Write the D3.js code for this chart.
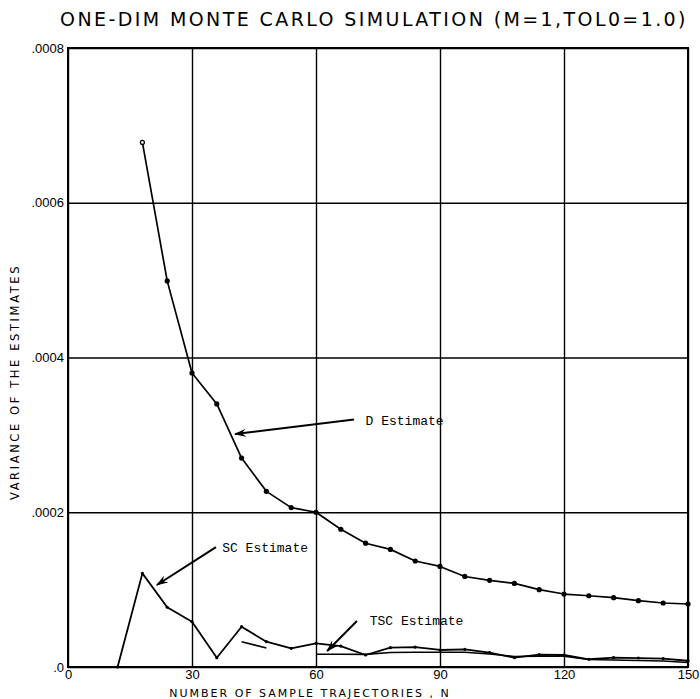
<!DOCTYPE html>
<html>
<head>
<meta charset="utf-8">
<script src="https://cdn.jsdelivr.net/npm/d3@7"></script>
<style>
  body { margin: 0; background: #fff; }
  svg { display: block; }
  .tick text { font-family: 'Liberation Sans', Arial, sans-serif; }
</style>
</head>
<body>
<div id="chart"></div>
<script>
// data
const nValues = [18, 24, 30, 36, 42, 48, 54, 60, 66, 72, 78, 84, 90, 96, 102, 108, 114, 120, 126, 132, 138, 144, 150]
const dEstimate = [0.000678, 0.000499, 0.000380, 0.000340, 0.000270, 0.000227, 0.000206, 0.000200, 0.000178,
  0.000160, 0.000152, 0.000137, 0.000130, 0.000117, 0.000112, 0.000108, 0.000100, 0.0000943, 0.0000921,
  0.0000896, 0.0000857, 0.0000827, 0.0000814]

const scN = [12, 18, 24, 30, 36, 42, 48, 54, 60, 66, 72, 78, 84, 90, 96, 102, 108, 114, 120, 126, 132, 138, 144, 150]
const scEstimate = [0, 0.000121, 0.0000772, 0.0000585, 0.000012, 0.0000521, 0.0000327, 0.0000241, 0.0000306,
  0.0000271, 0.0000155, 0.000025, 0.0000258, 0.000022, 0.0000228, 0.0000185, 0.000012, 0.0000159, 0.0000155,
  0.00001, 0.000012, 0.0000116, 0.0000107, 0.0000081]

// TSC drawn as a short piece then from N=60 on
const tscPieceN = [42, 48]
const tscPiece = [0.0000327, 0.0000245]
const tscN = [60, 66, 72, 78, 84, 90, 96, 102, 108, 114, 120, 126, 132, 138, 144, 150]
const tscEstimate = [0.0000164, 0.0000164, 0.0000163, 0.0000187, 0.000019, 0.000019, 0.000019, 0.0000168,
  0.0000136, 0.000014, 0.000014, 0.0000097, 0.000009, 0.0000084, 0.0000078, 0.0000058]

const xTicks = [0, 30, 60, 90, 120, 150]
const yTicks = [0, 0.0002, 0.0004, 0.0006, 0.0008]
const yTickLabels = ['.0', '.0002', '.0004', '.0006', '.0008']

// annotations: [label, text N, text value, arrow from N, from value, to N, to value]
const annotations = [
  ['D Estimate', 72, 0.000313, 69.2, 0.00032, 40.4, 0.000301],
  ['SC Estimate', 37.3, 0.000149, 35.8, 0.000155, 21.5, 0.000106],
  ['TSC Estimate', 73, 0.0000543, 69.9, 0.0000595, 62.7, 0.0000207],
]

const W = 700, H = 699
const margin = { top: 48, right: 12, bottom: 32, left: 68 }
const width = W - margin.left - margin.right
const height = H - margin.top - margin.bottom

const svg = d3.select('#chart').append('svg').attr('width', W).attr('height', H)

svg.append('defs').append('marker')
  .attr('id', 'arrow')
  .attr('viewBox', '0 0 12 8')
  .attr('refX', 11).attr('refY', 4)
  .attr('markerWidth', 12).attr('markerHeight', 8)
  .attr('markerUnits', 'userSpaceOnUse')
  .attr('orient', 'auto')
  .append('path')
  .attr('d', 'M0,0 L12,4 L0,8 L4,4 Z')
  .attr('fill', '#000')

const g = svg.append('g').attr('transform', `translate(${margin.left},${margin.top})`)

const x = d3.scaleLinear().domain([0, 150]).range([0, width])
const y = d3.scaleLinear().domain([0, 0.0008]).range([height, 0])

// grid lines
g.append('g')
  .attr('transform', `translate(0,${height})`)
  .call(d3.axisBottom(x).tickValues(xTicks).tickSize(-height).tickSizeOuter(0).tickPadding(3))
  .call(a => a.select('.domain').remove())
  .call(a => a.selectAll('line').attr('stroke', '#000').attr('stroke-width', 1.4))
  .call(a => a.selectAll('text').attr('font-size', 13).attr('fill', '#000'))

g.append('g')
  .call(d3.axisLeft(y).tickValues(yTicks).tickFormat((d, i) => yTickLabels[i]).tickSize(-width).tickSizeOuter(0).tickPadding(4))
  .call(a => a.select('.domain').remove())
  .call(a => a.selectAll('line').attr('stroke', '#000').attr('stroke-width', 1.4))
  .call(a => a.selectAll('text').attr('font-size', 13).attr('fill', '#000'))

// frame
g.append('rect')
  .attr('width', width).attr('height', height)
  .attr('fill', 'none').attr('stroke', '#000').attr('stroke-width', 2)

const line = d3.line().x(d => x(d[0])).y(d => y(d[1]))

function drawSeries(ns, vals, r, sw) {
  const pts = ns.map((n, i) => [n, vals[i]])
  g.append('path').datum(pts)
    .attr('d', line)
    .attr('fill', 'none').attr('stroke', '#000').attr('stroke-width', sw)
    .attr('stroke-linejoin', 'round')
  if (r > 0) {
    g.append('g').selectAll('circle').data(pts).join('circle')
      .attr('cx', d => x(d[0])).attr('cy', d => y(d[1])).attr('r', r)
      .attr('fill', '#000')
  }
}

drawSeries(nValues, dEstimate, 2.6, 1.7)
drawSeries(scN, scEstimate, 1.6, 1.8)
drawSeries(tscPieceN, tscPiece, 0, 1.6)
drawSeries(tscN, tscEstimate, 0, 1.6)

// open marker on first D point
g.append('circle')
  .attr('cx', x(nValues[0])).attr('cy', y(dEstimate[0])).attr('r', 1.3).attr('fill', '#fff')

// labels with arrows
annotations.forEach(a => {
  g.append('text')
    .attr('x', x(a[1])).attr('y', y(a[2]))
    .attr('font-family', "'Liberation Mono', 'DejaVu Sans Mono', monospace")
    .attr('font-size', 13)
    .text(a[0])
  g.append('line')
    .attr('x1', x(a[3])).attr('y1', y(a[4]))
    .attr('x2', x(a[5])).attr('y2', y(a[6]))
    .attr('stroke', '#000').attr('stroke-width', 2)
    .attr('marker-end', 'url(#arrow)')
})

// title and axis titles
svg.append('text')
  .attr('x', 374).attr('y', 26)
  .attr('text-anchor', 'middle')
  .attr('font-family', "'DejaVu Sans', sans-serif")
  .attr('font-size', 19)
  .attr('letter-spacing', 2.4)
  .text('ONE-DIM MONTE CARLO SIMULATION (M=1,TOL0=1.0)')

svg.append('text')
  .attr('x', 310).attr('y', 697)
  .attr('text-anchor', 'middle')
  .attr('font-family', "'DejaVu Sans', sans-serif")
  .attr('font-size', 11)
  .attr('letter-spacing', 2)
  .text('NUMBER OF SAMPLE TRAJECTORIES , N')

svg.append('text')
  .attr('transform', 'translate(19,382) rotate(-90)')
  .attr('text-anchor', 'middle')
  .attr('font-family', "'DejaVu Sans', sans-serif")
  .attr('font-size', 11.5)
  .attr('letter-spacing', 2.6)
  .text('VARIANCE OF THE ESTIMATES')
</script>
</body>
</html>
